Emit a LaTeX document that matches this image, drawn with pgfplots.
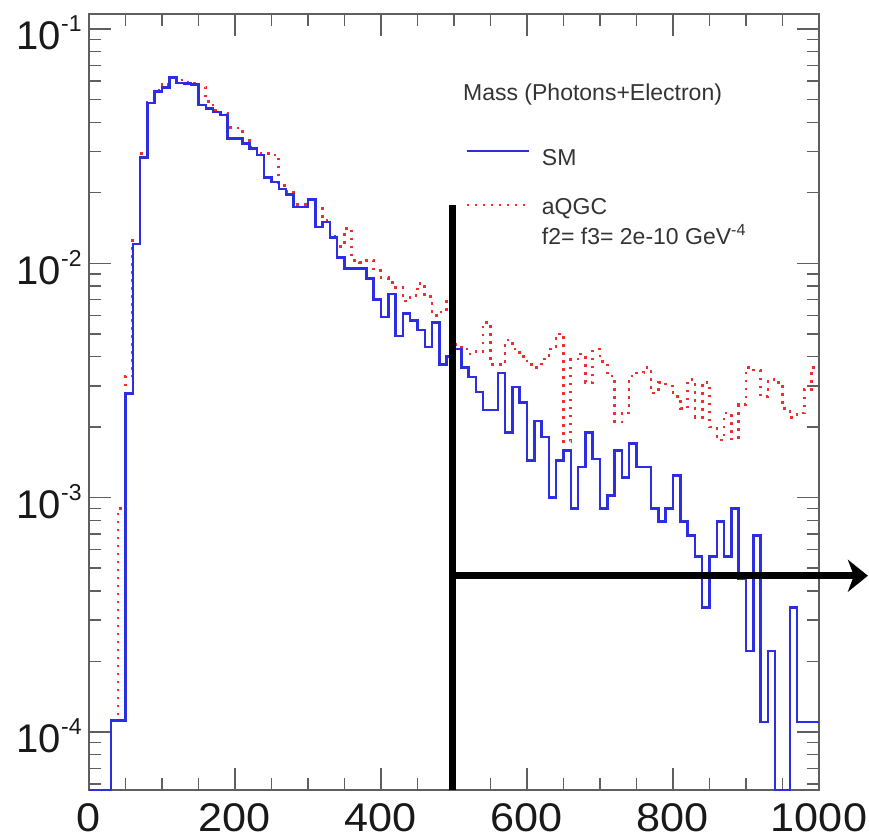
\documentclass[border=0pt]{standalone}
\usepackage{pgfplots}
\pgfplotsset{compat=1.18}
\usepackage{pgfplotstable}
\usepackage{fontspec}
\setmainfont{Liberation Sans}
\usetikzlibrary{arrows.meta}
\definecolor{smblue}{RGB}{45,45,225}
\definecolor{aqred}{RGB}{240,45,45}
\definecolor{framegray}{RGB}{95,95,95}

% SM histogram: left bin edge, content (zero bins drawn at the axis bottom)
\pgfplotstableread{
x y
0 5.65e-5
10 5.65e-5
20 5.65e-5
30 1.12e-4
40 1.12e-4
50 2.78e-3
60 0.0121
70 0.0283
80 0.0484
90 0.0540
100 0.0563
110 0.0621
120 0.0588
130 0.0585
140 0.0580
150 0.0473
160 0.0458
170 0.0443
180 0.0429
190 0.0341
200 0.0341
210 0.0325
220 0.0309
230 0.0290
240 0.0232
250 0.0222
260 0.0208
270 0.0197
280 0.0174
290 0.0174
300 0.0187
310 0.0143
320 0.0150
330 0.0129
340 0.0106
350 0.0095
360 0.0095
370 0.0095
380 0.0086
390 0.0070
400 0.0059
410 0.0074
420 0.0049
430 0.0061
440 0.0057
450 0.0052
460 0.0044
470 0.0056
480 0.0037
490 0.0040
500 0.0043
510 0.0036
520 0.00327
530 0.00282
540 0.00236
550 0.00236
560 0.0034
570 0.0019
580 0.00296
590 0.00255
600 0.00144
610 0.00212
620 0.00181
630 0.00100
640 0.00144
650 0.00159
660 0.00090
670 0.00135
680 0.00190
690 0.00146
700 0.00090
710 0.00102
720 0.00159
730 0.00122
740 0.00170
750 0.00135
760 0.00135
770 0.00090
780 0.00079
790 0.00090
800 0.00124
810 0.00079
820 0.00069
830 0.00056
840 0.00034
850 0.00056
860 0.00079
870 0.00056
880 0.00090
890 0.00045
900 0.000222
910 0.00069
920 0.00011
930 0.000222
940 5.65e-5
950 5.65e-5
960 0.00034
970 0.00011
980 0.00011
990 0.00011
1000 0.00011
}\smdata

% aQGC histogram
\pgfplotstableread{
x y
0 5.65e-5
10 5.65e-5
20 5.65e-5
30 1.12e-4
40 9.0e-4
50 0.0033
60 0.0125
70 0.0295
80 0.0486
90 0.0545
100 0.0580
110 0.0625
120 0.0605
130 0.0595
140 0.0585
150 0.0565
160 0.0490
170 0.0450
180 0.0435
190 0.0380
200 0.0378
210 0.0335
220 0.0312
230 0.0296
240 0.0295
250 0.0290
260 0.0215
270 0.0203
280 0.0178
290 0.0178
300 0.0188
310 0.0174
320 0.0153
330 0.0131
340 0.0118
350 0.0141
360 0.0103
370 0.0101
380 0.0103
390 0.0093
400 0.0087
410 0.0083
420 0.0079
430 0.0069
440 0.0073
450 0.0082
460 0.0072
470 0.0060
480 0.0062
490 0.0070
500 0.0045
510 0.0043
520 0.0041
530 0.0042
540 0.0056
550 0.0037
560 0.0037
570 0.0047
580 0.0043
590 0.0040
600 0.0037
610 0.0036
620 0.0039
630 0.0043
640 0.0050
650 0.00174
660 0.0039
670 0.0041
680 0.0031
690 0.0043
700 0.0038
710 0.0033
720 0.0021
730 0.0023
740 0.0033
750 0.0034
760 0.0036
770 0.0028
780 0.0031
790 0.0030
800 0.0027
810 0.0024
820 0.0032
830 0.0022
840 0.0031
850 0.0020
860 0.00176
870 0.0023
880 0.00178
890 0.0025
900 0.0036
910 0.0035
920 0.0027
930 0.0032
940 0.0031
950 0.0024
960 0.0022
970 0.0023
980 0.0029
990 0.0036
1000 0.0036
}\aqdata

\newcommand{\tl}[1]{10\raisebox{9pt}{\fontsize{11.5}{11.5}\selectfont #1}}

\begin{document}
\begin{tikzpicture}
\begin{axis}[
  width=365pt, height=388pt, scale only axis,
  xmin=0, xmax=1000, ymin=5.65e-5, ymax=0.1159, ymode=log,
  axis line style={framegray, line width=0.7pt},
  every tick/.style={framegray, line width=0.7pt},
  tick align=inside,
  major tick length=11pt, minor tick length=6pt,
  xtick={0,200,400,600,800,1000},
  xticklabels={0,200,400,600,800,1000},
  minor x tick num=3,
  ytick={1e-4,1e-3,1e-2,1e-1},
  yticklabels={\tl{-4},\tl{-3},\tl{-2},\tl{-1}},
  minor ytick={6e-5,7e-5,8e-5,9e-5,2e-4,3e-4,4e-4,5e-4,6e-4,7e-4,8e-4,9e-4,2e-3,3e-3,4e-3,5e-3,6e-3,7e-3,8e-3,9e-3,2e-2,3e-2,4e-2,5e-2,6e-2,7e-2,8e-2,9e-2},
  xticklabel style={font=\fontsize{20}{24}\selectfont, text=black!90, inner sep=0pt, yshift=-6.5pt, xscale=1.08},
  yticklabel style={font=\fontsize{20}{24}\selectfont, text=black!90, inner sep=0pt, xshift=-3.5pt, yshift=-2pt},
  clip=false,
  reverse legend,
  legend cell align=left,
  legend style={draw=none, fill=none, at={(0.515,0.8289)}, anchor=north west,
    font=\fontsize{11.5}{15}\selectfont, text=black!80, inner sep=0pt,
    row sep=10.4pt, column sep=5pt, nodes={inner sep=1pt}},
  legend image code/.code={\draw[#1, line cap=butt] (0pt,3.8pt) -- (31pt,3.8pt);},
]
\addplot[const plot, color=aqred, line width=1.3pt, dash pattern=on 1.3pt off 2.7pt] table[x=x, y=y] {\aqdata};
\addlegendentry{\begin{tabular}{@{}l@{}}aQGC\\f2= f3= 2e-10 GeV\textsuperscript{-4}\end{tabular}}
\addplot[const plot, color=smblue, line width=1.25pt] table[x=x, y=y] {\smdata};
\addlegendentry{SM}

\addplot[black, line width=3.5pt, line cap=butt, forget plot] coordinates {(497.5,5.65e-5) (497.5,0.0177)};
\addplot[black, line width=3.5pt, -{Stealth[length=10pt, width=16pt, inset=3pt]}, forget plot] coordinates {(495.8,4.64e-4) (1067,4.64e-4)};

\node[anchor=west, inner sep=0pt, font=\fontsize{11.5}{13}\selectfont, text=black!80] at (rel axis cs:0.512,0.8956) {Mass (Photons+Electron)};
\end{axis}
\pgfresetboundingbox
\path[use as bounding box] ([xshift=-44.5pt,yshift=-24.5pt]current axis.south west) rectangle ([xshift=25pt,yshift=7pt]current axis.north east);
\end{tikzpicture}
\end{document}
